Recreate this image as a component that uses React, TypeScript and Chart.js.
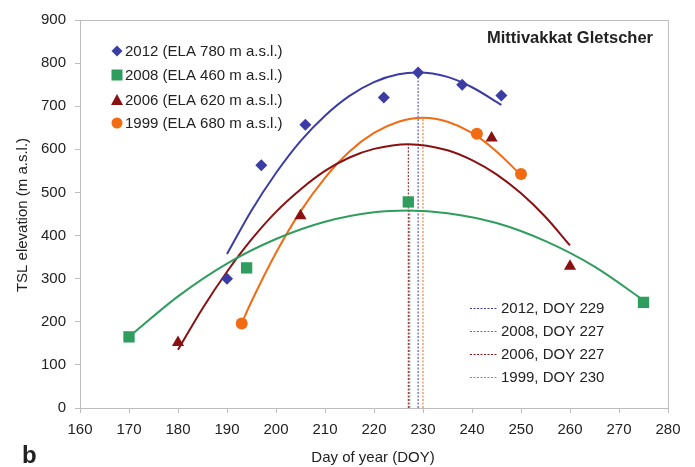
import React, { useEffect, useRef } from "react";
import { Chart, registerables } from "chart.js";
Chart.register(...registerables);

// ---- data ----
const xMin = 160;
const xMax = 280;
const xStep = 10;
const yMin = 0;
const yMax = 900;
const yStep = 100;

const seriesLabels = [
  "2012 (ELA 780 m a.s.l.)",
  "2008 (ELA 460 m a.s.l.)",
  "2006 (ELA 620 m a.s.l.)",
  "1999 (ELA 680 m a.s.l.)",
];
const peakLabels = ["2012, DOY 229", "2008, DOY 227", "2006, DOY 227", "1999, DOY 230"];

const doy2012 = [190, 197, 206, 222, 229, 238, 246];
const tsl2012 = [300, 563, 657, 720, 778, 750, 725];
const doy2008 = [170, 194, 227, 275];
const tsl2008 = [165, 325, 478, 245];
const doy2006 = [180, 205, 244, 260];
const tsl2006 = [152, 446, 626, 329];
const doy1999 = [193, 241, 250];
const tsl1999 = [196, 636, 543];

// trend curves
const fitDoy2012 = [190, 195, 200, 205, 210, 215, 220, 225, 229, 235, 240, 246];
const fitTsl2012 = [357, 458, 545, 619, 678, 724, 756, 774, 778, 768, 744, 703];
const fitDoy2008 = [170, 180, 190, 200, 210, 220, 227, 235, 245, 255, 265, 275];
const fitTsl2008 = [165, 259, 335, 392, 432, 454, 458, 452, 429, 387, 328, 250];
const fitDoy2006 = [180, 185, 190, 195, 200, 205, 210, 215, 220, 227, 235, 240, 245, 250, 255, 260];
const fitTsl2006 = [135, 231, 316, 391, 455, 507, 550, 581, 601, 612, 598, 575, 542, 498, 443, 377];
const fitDoy1999 = [193, 195, 200, 205, 210, 215, 220, 225, 230, 235, 240, 245, 250];
const fitTsl1999 = [197, 247, 360, 456, 534, 595, 638, 664, 673, 664, 638, 595, 540];

// peak day verticals
const peakDoy = [229, 227.3, 227, 230];
const peakTsl = [778, 458, 612, 673];

const colors = ["#3b3ca6", "#2f9d5d", "#8a1111", "#f26b12"];
const pointStyles = ["rectRot", "rect", "triangle", "circle"];
const pointRadii = [6, 8, 7, 6];

const FONT = "'Liberation Sans', Arial, sans-serif";
const TEXT = "#222";

function zip(xs: number[], ys: number[]) {
  return xs.map((x, i) => ({ x, y: ys[i] }));
}

const extrasPlugin = {
  id: "extras",
  afterDraw(chart: any) {
    const ctx = chart.ctx as CanvasRenderingContext2D;
    const ca = chart.chartArea;
    ctx.save();
    // frame top & right
    ctx.strokeStyle = "#bdbdbd";
    ctx.lineWidth = 1;
    ctx.beginPath();
    ctx.moveTo(ca.left, ca.top + 0.5);
    ctx.lineTo(ca.right + 0.5, ca.top + 0.5);
    ctx.lineTo(ca.right + 0.5, ca.bottom);
    ctx.stroke();

    // title
    ctx.fillStyle = TEXT;
    ctx.font = `bold 16.5px ${FONT}`;
    ctx.textAlign = "center";
    ctx.textBaseline = "middle";
    ctx.fillText("Mittivakkat Gletscher", 570, 38);

    // series legend (top-left)
    ctx.font = `15px ${FONT}`;
    ctx.textAlign = "left";
    const rowsA = [51, 75, 100, 123];
    for (let i = 0; i < 4; i++) {
      const y = rowsA[i];
      const x = 117;
      ctx.fillStyle = colors[i];
      ctx.beginPath();
      if (i === 0) {
        const r = 5.5;
        ctx.moveTo(x - r, y);
        ctx.lineTo(x, y - r);
        ctx.lineTo(x + r, y);
        ctx.lineTo(x, y + r);
        ctx.closePath();
      } else if (i === 1) {
        ctx.rect(x - 5.5, y - 5.5, 11, 11);
      } else if (i === 2) {
        ctx.moveTo(x - 6, y + 5);
        ctx.lineTo(x, y - 6);
        ctx.lineTo(x + 6, y + 5);
        ctx.closePath();
      } else {
        ctx.arc(x, y, 5.5, 0, Math.PI * 2);
      }
      ctx.fill();
      ctx.fillStyle = TEXT;
      ctx.fillText(seriesLabels[i], 125, y + 1);
    }

    // peak legend (bottom-right)
    const rowsB = [308, 331, 354, 377];
    for (let i = 0; i < 4; i++) {
      const y = rowsB[i];
      ctx.strokeStyle = colors[i];
      ctx.lineWidth = 1;
      ctx.setLineDash([2, 1.5]);
      ctx.beginPath();
      ctx.moveTo(470, y + 0.5);
      ctx.lineTo(497, y + 0.5);
      ctx.stroke();
      ctx.setLineDash([]);
      ctx.fillStyle = TEXT;
      ctx.fillText(peakLabels[i], 501, y + 1);
    }

    // axis titles
    ctx.font = `15px ${FONT}`;
    ctx.textAlign = "center";
    ctx.fillText("Day of year (DOY)", 373, 458);
    ctx.save();
    ctx.translate(23, 215);
    ctx.rotate(-Math.PI / 2);
    ctx.fillText("TSL elevation (m a.s.l.)", 0, 0);
    ctx.restore();

    // panel letter
    ctx.font = `bold 24px ${FONT}`;
    ctx.textAlign = "left";
    ctx.fillText("b", 22, 456);
    ctx.restore();
  },
};

export default function App() {
  const ref = useRef<HTMLCanvasElement | null>(null);
  useEffect(() => {
    if (!ref.current) return;
    const pts = [zip(doy2012, tsl2012), zip(doy2008, tsl2008), zip(doy2006, tsl2006), zip(doy1999, tsl1999)];
    const fits = [
      zip(fitDoy2012, fitTsl2012),
      zip(fitDoy2008, fitTsl2008),
      zip(fitDoy2006, fitTsl2006),
      zip(fitDoy1999, fitTsl1999),
    ];
    const datasets: any[] = [];
    for (let i = 0; i < 4; i++) {
      datasets.push({
        label: seriesLabels[i],
        data: pts[i],
        showLine: false,
        pointStyle: pointStyles[i],
        pointRadius: pointRadii[i],
        pointBackgroundColor: colors[i],
        pointBorderColor: colors[i],
        pointBorderWidth: 0,
        order: 0,
      });
    }
    for (let i = 0; i < 4; i++) {
      datasets.push({
        label: "fit " + i,
        data: fits[i],
        showLine: true,
        borderColor: colors[i],
        borderWidth: 2,
        pointRadius: 0,
        cubicInterpolationMode: "monotone",
        fill: false,
        order: 1,
      });
    }
    for (let i = 0; i < 4; i++) {
      datasets.push({
        label: peakLabels[i],
        data: [
          { x: peakDoy[i], y: yMin },
          { x: peakDoy[i], y: peakTsl[i] },
        ],
        showLine: true,
        borderColor: colors[i],
        borderWidth: 1,
        borderDash: [2, 1.5],
        pointRadius: 0,
        fill: false,
        order: 2,
      });
    }
    const tickFont = { family: FONT, size: 15 };
    const chart = new Chart(ref.current, {
      type: "scatter",
      data: { datasets },
      options: {
        responsive: false,
        animation: false,
        layout: { padding: { left: 0, right: 27, top: 20, bottom: 0 } },
        plugins: { legend: { display: false }, tooltip: { enabled: false } },
        scales: {
          x: {
            type: "linear",
            min: xMin,
            max: xMax,
            ticks: { stepSize: xStep, font: tickFont, color: TEXT, padding: 8 },
            grid: { drawOnChartArea: false, tickLength: 5, color: "#bdbdbd" },
            border: { color: "#bdbdbd" },
            afterFit: (s: any) => {
              s.height = 59;
            },
          },
          y: {
            type: "linear",
            min: yMin,
            max: yMax,
            ticks: { stepSize: yStep, font: tickFont, color: TEXT, padding: 9 },
            grid: { drawOnChartArea: false, tickLength: 5, color: "#bdbdbd" },
            border: { color: "#bdbdbd" },
            afterFit: (s: any) => {
              s.width = 80;
            },
          },
        },
      },
      plugins: [extrasPlugin],
    } as any);
    return () => chart.destroy();
  }, []);
  return (
    <div style={{ position: "fixed", left: 0, top: 0, width: 695, height: 467, background: "#fff" }}>
      <canvas ref={ref} width={695} height={467} style={{ width: 695, height: 467 }} />
    </div>
  );
}
